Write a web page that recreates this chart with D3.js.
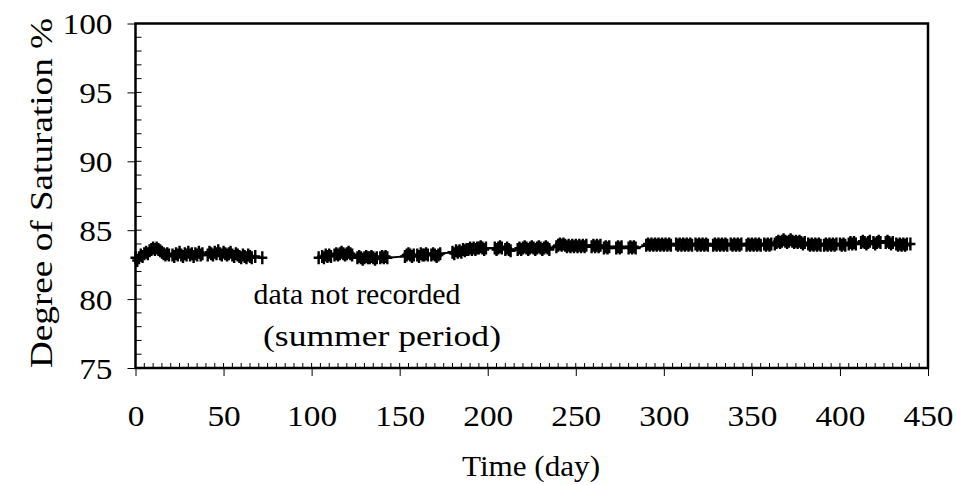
<!DOCTYPE html>
<html>
<head>
<meta charset="utf-8">
<script src="https://cdn.jsdelivr.net/npm/d3@7"></script>
<style>
	body { margin: 0; background: #fff; }
	text { font-family: "Liberation Serif", "Times New Roman", serif; fill: #000; }
</style>
</head>
<body>
<div id="chart"></div>
<script>
/* global d3 */
// measurements before the summer break
var daysA = [0,1,2,3,4,5,6,7,8,9,10,11,12,13,14,15,16,17,18,19,
	21,22,23,24,25,26,27,28,29,30,31,32,33,34,35,36,37,38,
	41,42,43,44,45,46,47,48,49,50,51,52,53,54,55,56,57,58,59,60,61,62,63,64,65,66,
	68,72];
var valsA = [83.0,82.8,83.0,83.2,83.1,83.3,83.4,83.3,83.5,83.6,83.7,83.6,83.7,83.6,83.5,83.4,83.3,83.2,83.3,83.2,
	83.2,83.1,83.3,83.2,83.4,83.2,83.1,83.3,83.2,83.4,83.2,83.3,83.1,83.3,83.2,83.4,83.2,83.3,
	83.2,83.4,83.3,83.2,83.4,83.3,83.5,83.3,83.2,83.4,83.3,83.2,83.3,83.4,83.2,83.1,83.3,83.2,83.1,83.0,83.2,83.1,83.0,83.2,83.1,83.0,
	83.1,83.0];

// measurements after the summer break
var daysB = [104,
	106,107,108,109,110,111,
	113,114,115,116,117,118,119,120,121,122,123,
	126,127,128,129,130,131,132,133,134,135,136,137,
	139,140,141,142,143,
	153,154,155,156,157,158,
	160,161,162,163,164,165,166,
	168,169,170,171,172,173,
	180,181,182,183,184,185,186,187,188,
	189,190,191,192,193,194,
	195,196,197,198,199,
	204,205,206,207,208,
	210,211,212,213,
	217,218,219,220,221,222,223,224,225,226,227,228,229,230,231,232,233,234,235,
	239,240,241,242,243,244,245,246,247,248,249,250,251,252,253,254,255,256,
	259,260,261,262,263,264,
	266,267,268,269,
	273,274,275,276,
	280,281,282,283,284,
	290,291,292,293,294,295,296,297,298,299,300,301,302,303,304,
	307,308,309,310,311,312,313,314,315,316,
	318,319,320,321,322,323,324,325,
	328,329,330,331,332,333,334,335,336,
	338,339,340,341,342,343,344,
	347,348,349,350,351,352,353,354,355,
	357,358,359,360,361,
	363,364,365,366,367,368,369,370,371,372,373,374,375,376,377,378,379,380,
	382,383,384,385,386,387,388,389,
	391,392,393,394,395,396,397,398,
	400,401,402,403,
	405,406,407,408,409,
	412,413,414,415,416,417,
	419,420,421,422,423,
	426,427,428,429,430,
	432,433,434,435,436,437,438,440];
var valsB = [83.0,
	83.1,83.0,83.2,83.1,83.2,83.1,
	83.2,83.3,83.2,83.3,83.4,83.3,83.2,83.3,83.4,83.3,83.2,
	83.0,83.1,83.0,82.9,83.0,83.1,83.0,83.0,83.1,83.0,82.9,83.0,
	83.0,83.1,83.0,83.1,83.0,
	83.1,83.2,83.3,83.2,83.1,83.2,
	83.2,83.1,83.3,83.2,83.2,83.3,83.2,
	83.2,83.3,83.2,83.1,83.2,83.3,
	83.4,83.3,83.5,83.4,83.5,83.4,83.6,83.5,83.6,
	83.6,83.7,83.6,83.7,83.6,83.7,
	83.7,83.8,83.7,83.6,83.7,
	83.7,83.6,83.7,83.8,83.7,
	83.6,83.7,83.6,83.5,
	83.6,83.7,83.6,83.7,83.8,83.7,83.6,83.7,83.8,83.7,83.6,83.7,83.8,83.7,83.6,83.7,83.8,83.7,83.6,
	83.8,83.9,84.0,83.9,84.0,83.9,83.8,83.9,83.8,83.9,83.8,83.9,83.8,83.9,83.8,83.9,83.8,83.9,
	83.8,83.9,83.8,83.9,83.8,83.9,
	83.7,83.8,83.7,83.8,
	83.7,83.8,83.7,83.8,
	83.7,83.8,83.7,83.8,83.7,
	83.9,84.0,83.9,84.0,83.9,84.0,83.9,84.0,83.9,84.0,83.9,84.0,83.9,84.0,83.9,
	84.0,83.9,84.0,83.9,84.0,83.9,84.0,83.9,84.0,83.9,
	84.0,83.9,84.0,83.9,84.0,83.9,84.0,83.9,
	83.9,84.0,83.9,84.0,83.9,84.0,83.9,84.0,83.9,
	84.0,83.9,84.0,83.9,84.0,83.9,84.0,
	83.9,84.0,83.9,84.0,83.9,84.0,83.9,84.0,83.9,
	84.0,83.9,84.0,83.9,84.0,
	84.0,84.1,84.2,84.1,84.2,84.3,84.2,84.1,84.2,84.3,84.2,84.1,84.2,84.1,84.2,84.1,84.0,84.1,
	84.0,83.9,84.0,83.9,84.0,83.9,84.0,83.9,
	83.9,84.0,83.9,84.0,83.9,84.0,83.9,84.0,
	84.0,83.9,84.0,83.9,
	84.0,84.1,84.0,84.1,84.0,
	84.1,84.2,84.1,84.0,84.1,84.2,
	84.1,84.0,84.1,84.2,84.1,
	84.1,84.2,84.1,84.0,84.1,
	84.0,83.9,84.0,83.9,84.0,83.9,84.0,84.0];

var xTicks = [0,50,100,150,200,250,300,350,400,450];
var yTicks = [75,80,85,90,95,100];
var xLabel = "Time (day)";
var yLabel = "Degree of Saturation %";
var noteLines = ["data not recorded", "(summer period)"];

var width = 956, height = 485,
	mLeft = 135.5, mRight = 928, mTop = 23.5, mBottom = 368,
	stretch = 1.15;

var svg = d3.select("#chart").append("svg")
	.attr("width", width)
	.attr("height", height);

var x = d3.scaleLinear().domain([0,450]).range([mLeft,mRight]);
var y = d3.scaleLinear().domain([75,100]).range([mBottom,mTop]);

// minor ticks, inside the frame
var g = svg.append("g");
g.selectAll(".xminor").data(d3.range(0,451,5)).enter().append("line")
	.attr("x1", function(d){return x(d);}).attr("x2", function(d){return x(d);})
	.attr("y1", mBottom).attr("y2", mBottom-5)
	.attr("stroke","#000").attr("stroke-width",1);
g.selectAll(".yminor").data(d3.range(75,101,1)).enter().append("line")
	.attr("y1", function(d){return y(d);}).attr("y2", function(d){return y(d);})
	.attr("x1", mLeft).attr("x2", mLeft+6)
	.attr("stroke","#000").attr("stroke-width",1);

// major ticks + labels via d3 axes
var xAxis = svg.append("g")
	.attr("transform","translate(0,"+mBottom+")")
	.call(d3.axisBottom(x).tickValues(xTicks).tickSize(8).tickPadding(29).tickSizeOuter(0));
var yAxis = svg.append("g")
	.attr("transform","translate("+mLeft+",0)")
	.call(d3.axisLeft(y).tickValues(yTicks).tickSize(8).tickPadding(15).tickSizeOuter(0));
[xAxis, yAxis].forEach(function(a){
	a.select(".domain").remove();
	a.selectAll("line").attr("stroke","#000").attr("stroke-width",1);
	a.selectAll("text")
		.style("font-family",'"Liberation Serif", serif')
		.style("font-size","29px")
		.attr("fill","#000")
		.attr("transform","scale("+stretch+",1)");
});
yAxis.selectAll("text").attr("dy","0.36em").attr("x", -23/stretch);

// frame
svg.append("rect")
	.attr("x", mLeft).attr("y", mTop)
	.attr("width", mRight-mLeft).attr("height", mBottom-mTop)
	.attr("fill","none").attr("stroke","#000").attr("stroke-width",2.5);

// series
var line = d3.line().x(function(d){return x(d[0]);}).y(function(d){return y(d[1]);});
var cross = "M-5,0H5M0,-6.5V6.5";
[[daysA, valsA], [daysB, valsB]].forEach(function(s){
	var pts = s[0].map(function(d,i){return [d, s[1][i]];});
	svg.append("path").datum(pts)
		.attr("d", line)
		.attr("fill","none").attr("stroke","#000").attr("stroke-width",2);
	svg.append("g").selectAll("path").data(pts).enter().append("path")
		.attr("transform", function(d){return "translate("+x(d[0])+","+y(d[1])+")";})
		.attr("d", cross)
		.attr("stroke","#000").attr("stroke-width",2.4);
});

// annotation
svg.append("text").attr("x", 357).attr("y", 304)
	.attr("text-anchor","middle").style("font-size","29px")
	.attr("textLength", 207).attr("lengthAdjust","spacingAndGlyphs")
	.text(noteLines[0]);
svg.append("text").attr("x", 382).attr("y", 346)
	.attr("text-anchor","middle").style("font-size","29px")
	.attr("textLength", 238).attr("lengthAdjust","spacingAndGlyphs")
	.text(noteLines[1]);

// axis titles
svg.append("text").attr("x", 531).attr("y", 476)
	.attr("text-anchor","middle").style("font-size","29px")
	.attr("textLength", 138).attr("lengthAdjust","spacingAndGlyphs")
	.text(xLabel);
svg.append("text")
	.attr("transform","translate(52,193) rotate(-90)")
	.attr("text-anchor","middle").style("font-size","31px")
	.attr("textLength", 350).attr("lengthAdjust","spacingAndGlyphs")
	.text(yLabel);
</script>
</body>
</html>
